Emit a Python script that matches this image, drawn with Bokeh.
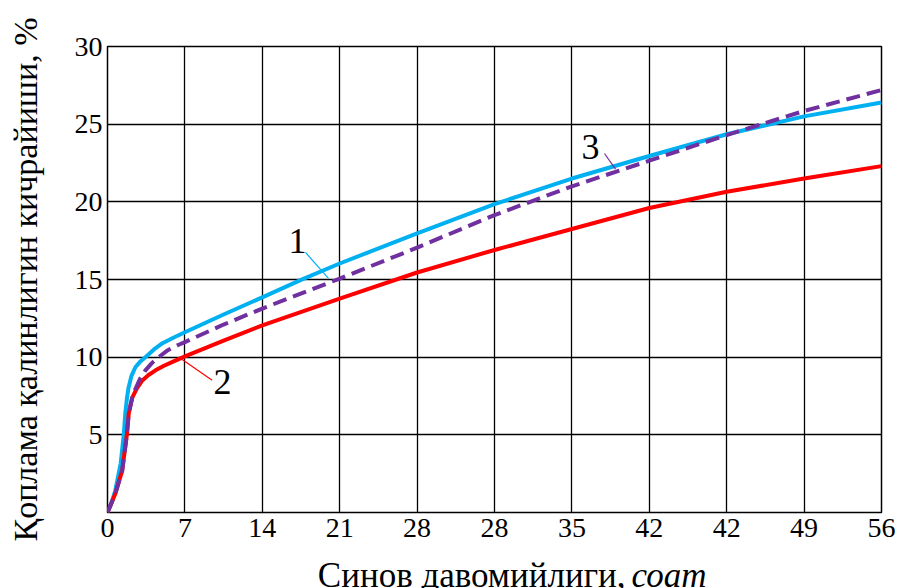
from bokeh.plotting import figure
from bokeh.models import Range1d, FixedTicker
from bokeh.layouts import column
from bokeh.core.properties import value
from bokeh.embed import file_html
from bokeh.resources import INLINE

FONT = "Liberation Serif"

# x axis: equally spaced grid positions with the original (irregular) labels
x_tick_pos = [0, 1, 2, 3, 4, 5, 6, 7, 8, 9, 10]
x_tick_labels = ["0", "7", "14", "21", "28", "28", "35", "42", "42", "49", "56"]
y_ticks = [0, 5, 10, 15, 20, 25, 30]

# curve 1 (blue)
c1_x = [0, 0.05, 0.10, 0.17, 0.21, 0.23, 0.25, 0.27, 0.31, 0.36, 0.42, 0.49, 0.6, 0.71,
        0.85, 1.0, 1.5, 2.0, 2.5, 3.0, 4.0, 5.0, 6.0, 7.0, 8.0, 9.0, 10.0]
c1_y = [0, 0.6, 1.4, 3.15, 5.0, 6.4, 7.3, 8.0, 8.8, 9.35, 9.7, 10.0, 10.5, 10.9,
        11.25, 11.6, 12.75, 13.85, 14.98, 16.03, 17.97, 19.85, 21.5, 22.95, 24.35, 25.5, 26.4]

# curve 2 (red)
c2_x = [0, 0.05, 0.10, 0.19, 0.25, 0.275, 0.32, 0.38, 0.45, 0.53, 0.62, 0.73, 0.84, 1.0,
        1.5, 2.0, 3.0, 4.0, 5.0, 6.0, 7.0, 8.0, 9.0, 10.0]
c2_y = [0, 0.6, 1.2, 2.7, 5.0, 6.4, 7.4, 8.0, 8.5, 8.85, 9.15, 9.45, 9.7, 10.05,
        11.07, 12.05, 13.77, 15.45, 16.9, 18.25, 19.6, 20.65, 21.5, 22.3]

# curve 3 (purple, dashed)
c3_x = [0, 0.05, 0.10, 0.19, 0.25, 0.275, 0.32, 0.36, 0.42, 0.49, 0.57, 0.66, 0.78, 0.92,
        1.0, 1.5, 2.0, 3.0, 4.0, 5.0, 6.0, 7.0, 8.0, 9.0, 10.0]
c3_y = [0, 0.6, 1.2, 2.7, 5.0, 6.4, 7.4, 7.95, 8.6, 9.15, 9.6, 10.0, 10.45, 10.8,
        10.97, 12.1, 13.13, 15.06, 17.05, 19.15, 21.0, 22.65, 24.3, 25.85, 27.2]

# curve labels and their leader lines
lab_text = ["1", "2", "3"]
lab_x = [2.455, 1.486, 6.24]
lab_y = [17.5, 8.37, 23.5]
lead_x0 = [2.558, 0.965, 6.421]
lead_y0 = [16.74, 9.85, 23.11]
lead_x1 = [2.855, 1.352, 6.563]
lead_y1 = [15.07, 8.52, 22.1]

# x axis title: regular part and italic unit
xtitle_parts = ["Синов давомийлиги,", "соат"]

BLUE = "#00B0F0"
RED = "#FF0000"
PURPLE = "#7030A0"
colors = [BLUE, RED, PURPLE]

p = figure(width=898, height=552, output_backend="svg", toolbar_location=None,
           x_range=Range1d(0, 10), y_range=Range1d(0, 30),
           min_border_left=107, min_border_right=17, min_border_top=46,
           min_border_bottom=40)
p.background_fill_color = "white"
p.border_fill_color = "white"
p.outline_line_color = "black"
p.outline_line_width = 1.5

p.xaxis.ticker = FixedTicker(ticks=x_tick_pos)
p.xaxis.major_label_overrides = {t: l for t, l in zip(x_tick_pos, x_tick_labels)}
p.yaxis.ticker = FixedTicker(ticks=y_ticks)
p.yaxis.major_label_overrides = {0: ""}

for ax in (p.xaxis[0], p.yaxis[0]):
    ax.axis_line_color = None
    ax.major_tick_line_color = None
    ax.minor_tick_line_color = None
    ax.major_tick_out = 0
    ax.major_tick_in = 0
    ax.major_label_text_font = FONT
    ax.major_label_text_font_size = "28px"
    ax.major_label_text_color = "black"

p.xaxis.major_label_standoff = 6
p.yaxis.major_label_standoff = 5

p.yaxis.axis_label = "Қоплама қалинлигин кичрайиши, %"
p.yaxis.axis_label_text_font = FONT
p.yaxis.axis_label_text_font_size = "34px"
p.yaxis.axis_label_text_font_style = "normal"
p.yaxis.axis_label_text_color = "black"
p.yaxis.axis_label_standoff = 28

p.xgrid.ticker = FixedTicker(ticks=x_tick_pos)
p.ygrid.ticker = FixedTicker(ticks=y_ticks)
for g in (p.xgrid[0], p.ygrid[0]):
    g.grid_line_color = "black"
    g.grid_line_width = 1.3
    g.grid_line_alpha = 1.0

p.line(c1_x, c1_y, line_color=BLUE, line_width=4, line_join="round")
p.line(c2_x, c2_y, line_color=RED, line_width=4, line_join="round")
p.line(c3_x, c3_y, line_color=PURPLE, line_width=4, line_dash="14 7")

p.segment(x0=lead_x0, y0=lead_y0, x1=lead_x1, y1=lead_y1,
          line_color=colors, line_width=1.2)
p.text(x=lab_x, y=lab_y, text=lab_text, text_font=value(FONT),
       text_font_size="36px", text_align="center", text_baseline="middle",
       text_color="black")

# strip below the chart holding the x axis title (pixel coordinates)
t = figure(width=898, height=36, output_backend="svg", toolbar_location=None,
           x_range=Range1d(0, 898), y_range=Range1d(0, 36),
           x_axis_type=None, y_axis_type=None,
           min_border=0, min_border_left=0, min_border_right=0,
           min_border_top=0, min_border_bottom=0)
t.grid.visible = False
t.outline_line_color = None
t.background_fill_color = "white"
t.border_fill_color = "white"
t.text(x=[601], y=[13], text=[xtitle_parts[0]], text_font=value(FONT),
       text_font_size="35px", text_align="right", text_baseline="alphabetic",
       text_color="black")
t.text(x=[608], y=[13], text=[xtitle_parts[1]], text_font=value(FONT),
       text_font_size="35px", text_font_style="italic", text_align="left",
       text_baseline="alphabetic", text_color="black")

layout = column(p, t, spacing=0)
open("out.html", "w").write(file_html(layout, INLINE))
